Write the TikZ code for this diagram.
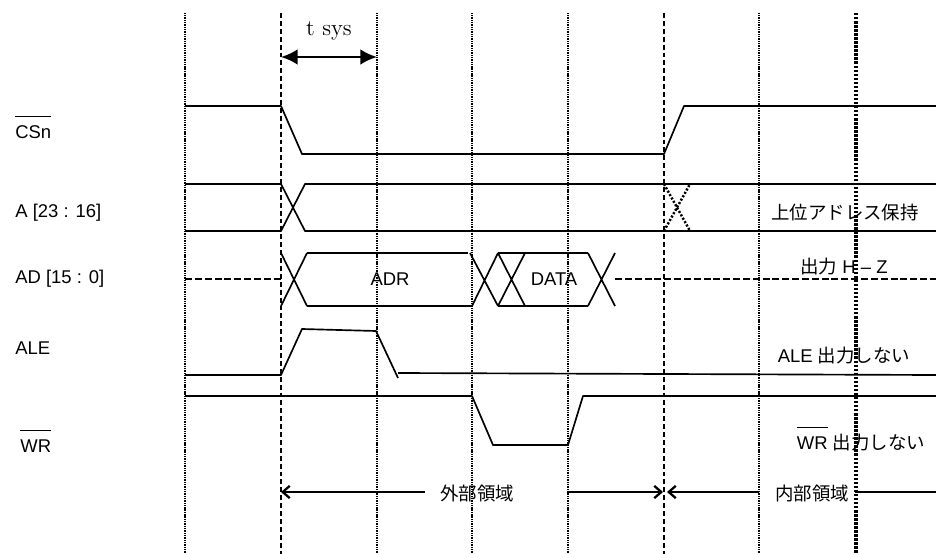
\documentclass[tikz,border=0pt]{standalone}
\usepackage{fontspec}
\newfontfamily\lsans{Liberation Sans}
\newfontfamily\jp{Noto Sans CJK JP}
\usetikzlibrary{arrows.meta}
\newcommand\ovl[1]{\vbox{\hrule height 0.6pt\kern 4.5pt\hbox{#1}}}
\begin{document}
\begin{tikzpicture}[x=0.02cm,y=-0.02cm,
  sig/.style={line width=0.95pt, line join=round},
  gdot/.style={line width=0.9pt, dash pattern=on 0.6pt off 0.4pt},
  gdash/.style={line width=0.8pt, dash pattern=on 2.8pt off 1.7pt},
  gheavy/.style={line width=1.9pt, dash pattern=on 1.4pt off 0.9pt},
  hiz/.style={line width=1.1pt, dash pattern=on 4pt off 1.6pt},
  xdot/.style={line width=1.4pt, dash pattern=on 1.2pt off 1pt},
  lbl/.style={font=\lsans\fontsize{10.5}{12}\selectfont, inner sep=0pt},
  jlbl/.style={font=\jp\fontsize{10.5}{12}\selectfont, inner sep=0pt},
  arr/.style={line width=1.3pt, -{Straight Barb[length=4pt,width=7pt]}},
  tarr/.style={line width=1.4pt, {Latex[length=9.5pt,width=9pt]}-{Latex[length=9.5pt,width=9pt]}},
]
\useasboundingbox (0,0) rectangle (936,554);

% grid lines
\draw[gdot]   (185,13) -- (185,554);
\draw[gdash]  (281,13) -- (281,554);
\draw[gdot]   (377,13) -- (377,554);
\draw[gdot]   (472,13) -- (472,554);
\draw[gdot]   (568,13) -- (568,554);
\draw[gdash]  (664,13) -- (664,554);
\draw[gdot]   (759,13) -- (759,554);
\draw[gheavy] (856,13) -- (856,554);

% t sys
\node[inner sep=0pt, anchor=base, font=\fontsize{13}{15}\selectfont] (tsys) at (329,36) {t sys};
\coordinate (ts1) at (281,57);
\coordinate (ts2) at (377,57);
\draw[tarr] (ts1) -- (ts2);

% CSn
\draw[sig] (185,106) -- (281,106) -- (302,154) -- (664,154) -- (684,106) -- (936,106);

% A[23:16]
\draw[sig] (185,184) -- (281,184) -- (305,231) -- (936,231);
\draw[sig] (185,231) -- (281,231) -- (305,184) -- (936,184);
\draw[xdot] (664,184) -- (690,231) (664,231) -- (690,184);

% AD[15:0]
\draw[hiz] (185,279) -- (281,279);
\draw[sig] (281,253) -- (307,306) (281,306) -- (307,253);
\draw[sig] (307,253) -- (468,253) (307,306) -- (472,306);
\draw[sig] (470,253) -- (498,306) (472,306) -- (498,253);
\draw[sig] (498,253) -- (525,306) (498,306) -- (525,253);
\draw[sig] (498,253) -- (588,253) (498,306) -- (588,306);
\draw[sig] (588,253) -- (615,306) (588,306) -- (615,253);
\draw[hiz] (615,279) -- (936,279);

% ALE
\draw[sig] (185,375) -- (281,375) -- (302,329) -- (376,331) -- (398,378);
\draw[sig] (398,373) -- (936,375);

% WR
\draw[sig] (185,396) -- (472,396) -- (493,445) -- (568,445) -- (583,396) -- (936,396);

% left labels
\node[lbl, anchor=base west] (lcs)  at (15,138) {\ovl{CSn}};
\node[lbl, anchor=base west] (la)   at (15,217) {A [23 : 16]};
\node[lbl, anchor=base west] (lad)  at (15,283) {AD [15 : 0]};
\node[lbl, anchor=base west] (lale) at (15,354) {ALE};
\node[lbl, anchor=base west] (lwr)  at (20,452) {\ovl{WR}};

% inner labels
\node[lbl, anchor=base] (adr)  at (390,285) {ADR};
\node[lbl, anchor=base] (data) at (554,285) {DATA};
\node[jlbl, anchor=base] (hold) at (845,219) {上位アドレス保持};
\node[lbl, anchor=base] (hiz)  at (844,273) {{\jp 出力} H – Z};
\node[lbl, anchor=base] (nale) at (844,362) {ALE {\jp 出力しない}};
\node[lbl, anchor=base] (nwr)  at (861,449) {\ovl{WR} {\jp 出力しない}};

% region arrows
\node[jlbl, anchor=base] (ext) at (477,500) {外部領域};
\node[jlbl, anchor=base] (int) at (812,500) {内部領域};
\coordinate (e1) at (425,492);
\coordinate (e0) at (281,492);
\coordinate (e2) at (567,492);
\coordinate (e3) at (663,492);
\coordinate (i1) at (759,492);
\coordinate (i0) at (667,492);
\coordinate (i2) at (855,492);
\coordinate (i3) at (936,492);
\draw[arr] (e1) -- (e0);
\draw[arr] (e2) -- (e3);
\draw[arr] (i1) -- (i0);
\draw[line width=0.8pt] (i2) -- (i3);
\end{tikzpicture}
\end{document}
